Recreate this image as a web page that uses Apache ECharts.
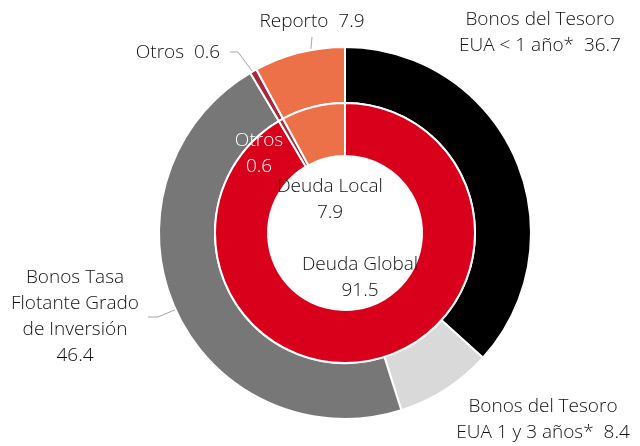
<!DOCTYPE html>
<html>
<head>
<meta charset="utf-8">
<script src="https://cdn.jsdelivr.net/npm/echarts@6/dist/echarts.min.js"></script>
<style>
  html, body { margin: 0; padding: 0; background: #fff; }
  #chart { width: 640px; height: 446px; }
</style>
</head>
<body>
<div id="chart"></div>
<script>
// anillo exterior
var outerNames = ['Bonos del Tesoro\nEUA < 1 año*', 'Bonos del Tesoro\nEUA 1 y 3 años*', 'Bonos Tasa\nFlotante Grado\nde Inversión', 'Otros', 'Reporto'];
var outerValues = [36.7, 8.4, 46.4, 0.6, 7.9];
var outerColors = ['#000000', '#d9d9d9', '#777777', '#a3293d', '#ec7149'];

// anillo interior
var innerNames = ['Deuda Global', 'Otros', 'Deuda Local'];
var innerValues = [91.5, 0.6, 7.9];
var innerColors = ['#d9001b', '#a3293d', '#ec7149'];

// posiciones de etiquetas (centro del texto) y lineas guia
var outerLabelPos = [[540, 33], [543, 420], [75, 317], [178, 53], [312, 22]];
var outerLines = [null, null,
  [[200, 299], [158, 317], [148, 317]],
  [[255, 75], [238, 52], [230, 52]],
  [[307, 80], [310, 58], [312, 37]]];
var innerLabelPos = [[360, 278], [259, 154], [330, 200]];

var font = { fontFamily: 'Open Sans', fontWeight: 300, fontSize: 19, lineHeight: 26, color: '#111111' };

var myChart = echarts.init(document.getElementById('chart'));
myChart.setOption({
  animation: false,
  backgroundColor: '#fff',
  series: [
    {
      name: 'exterior',
      type: 'pie',
      center: [345, 233],
      radius: [130, 186],
      avoidLabelOverlap: false,
      itemStyle: { borderColor: '#fff', borderWidth: 2 },
      data: outerValues.map(function (v, i) {
        return { name: outerNames[i], value: v, itemStyle: { color: outerColors[i] } };
      }),
      label: Object.assign({
        show: true,
        position: 'outside',
        formatter: function (p) {
          return p.name + (p.dataIndex === 2 ? '\n' : '  ') + p.value.toFixed(1);
        }
      }, font),
      labelLine: { show: true, lineStyle: { color: '#a6a6a6', width: 1 } },
      labelLayout: function (params) {
        var i = params.dataIndex;
        var res = { x: outerLabelPos[i][0], y: outerLabelPos[i][1], align: 'center', verticalAlign: 'middle' };
        res.labelLinePoints = outerLines[i] || [[0, 0], [0, 0], [0, 0]];
        return res;
      }
    },
    {
      name: 'interior',
      type: 'pie',
      center: [345, 233],
      radius: [77, 130],
      avoidLabelOverlap: false,
      itemStyle: { borderColor: '#fff', borderWidth: 2 },
      data: innerValues.map(function (v, i) {
        return {
          name: innerNames[i], value: v, itemStyle: { color: innerColors[i] },
          // la etiqueta "Otros" interior va en blanco
          label: i === 1 ? { color: '#ffffff' } : {}
        };
      }),
      label: Object.assign({
        show: true,
        position: 'inside',
        formatter: function (p) {
          return p.name + '\n' + p.value.toFixed(1);
        }
      }, font),
      labelLine: { show: false },
      labelLayout: function (params) {
        var i = params.dataIndex;
        return { x: innerLabelPos[i][0], y: innerLabelPos[i][1], align: 'center', verticalAlign: 'middle' };
      }
    }
  ]
});
</script>
</body>
</html>
